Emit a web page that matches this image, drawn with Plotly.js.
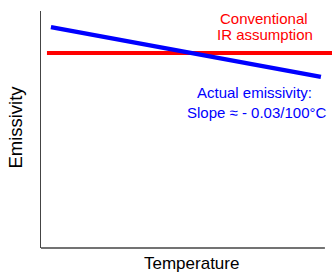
<!DOCTYPE html>
<html><head><meta charset="utf-8">
<script src="https://cdn.plot.ly/plotly-3.0.1.min.js"></script>
<style>html,body{margin:0;padding:0;background:#fff}#c{width:332px;height:274px}</style>
</head><body><div id="c"></div>
<script>
// Schematic values (arbitrary units)
const conventionalX = [2.1, 102.5];
const conventionalY = [0.823, 0.823];
const actualX = [3.5, 98.6];
const actualY = [0.932, 0.722];
const xTitle = 'Temperature';
const yTitle = 'Emissivity';
const conventionalLabel = ['Conventional', 'IR assumption'];
const actualLabel = ['Actual emissivity:', 'Slope ≈ - 0.03/100°C'];

const F = 'Arial, Liberation Sans, sans-serif';
const traces = [
  {x: conventionalX, y: conventionalY, mode: 'lines', line: {color: '#ff0000', width: 4}, hoverinfo: 'skip'},
  {x: actualX, y: actualY, mode: 'lines', line: {color: '#0000ff', width: 4.5}, hoverinfo: 'skip'}
];
function lab(text, x, y, color, size, angle) {
  return {xref: 'paper', yref: 'paper', x: x, y: y, text: text, showarrow: false,
          xanchor: 'center', yanchor: 'middle', textangle: angle || 0,
          font: {family: F, size: size, color: color}};
}
const layout = {
  width: 332, height: 274,
  margin: {l: 41, r: 0, t: 11, b: 26},
  showlegend: false,
  paper_bgcolor: '#fff', plot_bgcolor: '#fff',
  font: {family: F},
  xaxis: {range: [0, 102.5], showgrid: false, zeroline: false, showticklabels: false, ticks: '', showline: false},
  yaxis: {range: [0, 1], showgrid: false, zeroline: false, showticklabels: false, ticks: '', showline: true, linecolor: '#444', linewidth: 1.5},
  shapes: [
    {type: 'line', xref: 'x', yref: 'paper', x0: 0, x1: 100, y0: 0, y1: 0, line: {color: '#444', width: 1.5}}
  ],
  annotations: [
    lab(conventionalLabel[0], 0.768, 0.968, '#ff0000', 15),
    lab(conventionalLabel[1], 0.770, 0.899, '#ff0000', 15),
    lab(actualLabel[0], 0.734, 0.656, '#0000ff', 15),
    lab(actualLabel[1], 0.741, 0.572, '#0000ff', 15),
    lab(xTitle, 0.517, -0.0675, '#000', 17),
    lab(yTitle, -0.0859, 0.508, '#000', 18.5, -90)
  ]
};
Plotly.newPlot('c', traces, layout, {staticPlot: true, displayModeBar: false});
</script></body></html>
